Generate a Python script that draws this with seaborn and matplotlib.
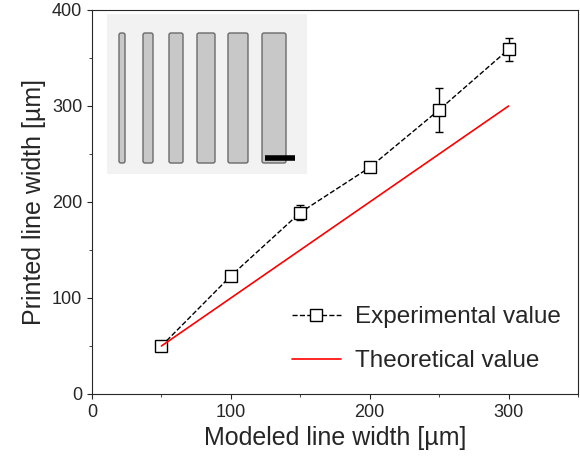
import matplotlib
matplotlib.use("Agg")
import matplotlib.pyplot as plt
import seaborn as sns
import pandas as pd
from matplotlib.patches import FancyBboxPatch

modeled = [50, 100, 150, 200, 250, 300]
printed = [50, 123, 189, 236, 296, 359]
errors = [5, 3, 8, 5, 23, 12]
theory_x = [50, 300]
theory_y = [50, 300]
inset_widths = [4, 8, 12, 16, 18, 22]

sns.set_style("ticks")
plt.rcParams['font.family'] = ['Liberation Sans', 'DejaVu Sans']

fig = plt.figure(figsize=(5.8, 4.74), dpi=100)
ax = fig.add_axes([92/580, 80/474, 486/580, 384/474])
df = pd.DataFrame({"x": modeled, "y": printed})
ax.errorbar(modeled, printed, yerr=errors, fmt='none', ecolor='black', capsize=3, lw=1)
sns.lineplot(data=df, x="x", y="y", ax=ax, color="black", ls="--", lw=1,
             marker="s", markersize=8, markerfacecolor="white", markeredgecolor="black",
             markeredgewidth=1, label="Experimental value")
sns.lineplot(x=theory_x, y=theory_y, ax=ax, color="red", lw=1.2, label="Theoretical value")
ax.set_xlim(0, 350)
ax.set_ylim(0, 400)
ax.set_xticks([0, 100, 200, 300])
ax.set_yticks([0, 100, 200, 300, 400])
ax.set_xticks([50, 150, 250, 350], minor=True)
ax.set_yticks([50, 150, 250, 350], minor=True)
ax.tick_params(labelsize=13, direction='out')
ax.set_xlabel("Modeled line width [µm]", fontsize=18)
ax.set_ylabel("Printed line width [µm]", fontsize=18)
ax.legend(loc="lower right", frameon=False, fontsize=17.5, handlelength=2.0,
          bbox_to_anchor=(1.01, 0.0), labelspacing=0.9, handletextpad=0.6)

ins = fig.add_axes([107/580, 1-174/474, 200/580, 160/474])
ins.set_facecolor("#f2f2f2")
ins.set_xlim(0, 200); ins.set_ylim(0, 160)
ins.set_xticks([]); ins.set_yticks([])
for s in ins.spines.values():
    s.set_visible(False)
centers = [15, 41, 69, 99, 131, 167]
for c, w in zip(centers, inset_widths):
    ins.add_patch(FancyBboxPatch((c - w/2, 12), w, 128, boxstyle="round,pad=1,rounding_size=2",
                                 fc="#c8c8c8", ec="#6a6a6a", lw=1))
ins.plot([158, 188], [16, 16], color="black", lw=4, solid_capstyle="butt")
fig.savefig("out.png", dpi=100)
